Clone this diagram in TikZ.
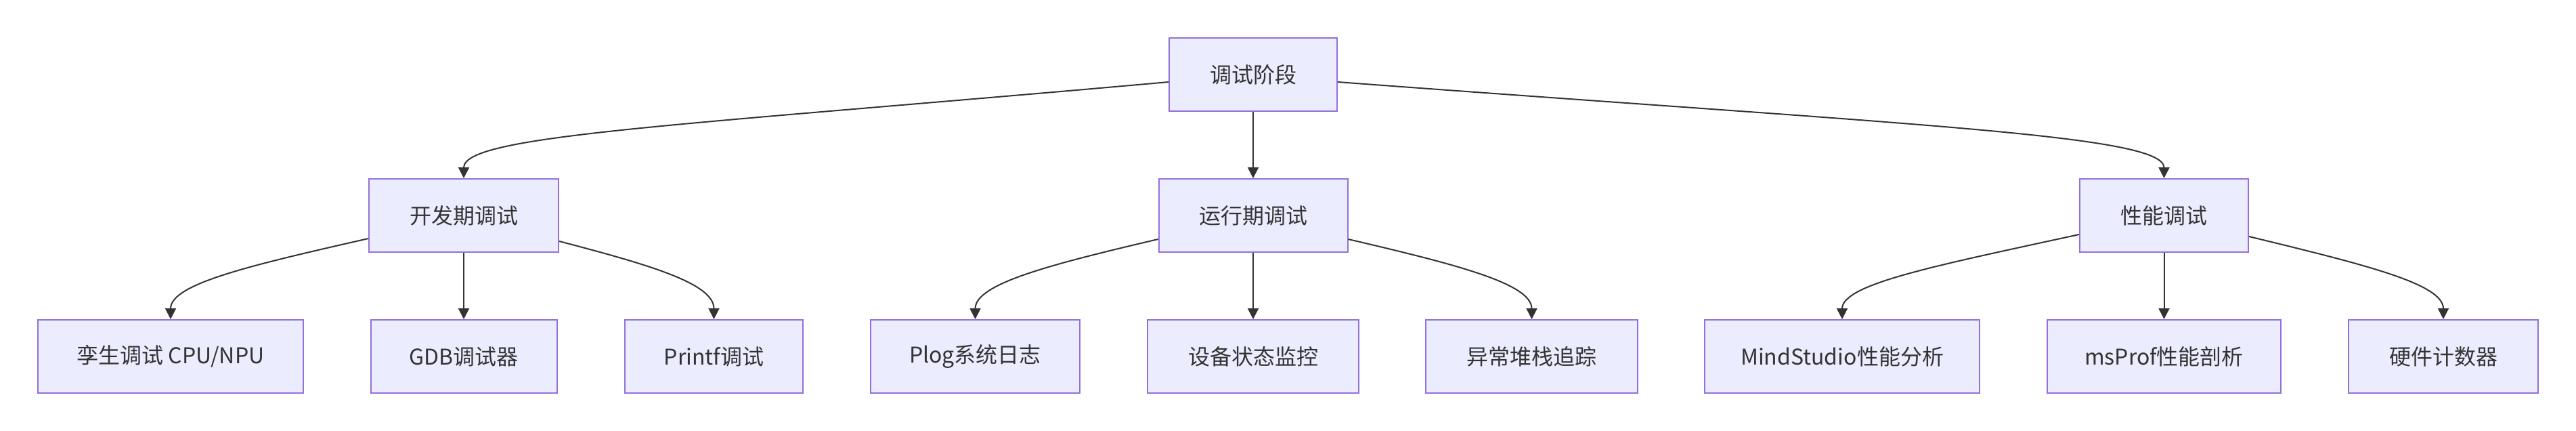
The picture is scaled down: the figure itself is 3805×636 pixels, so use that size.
\documentclass[tikz,border=0pt]{standalone}
\usepackage{fontspec}
\setmainfont{Noto Sans CJK SC}
\usetikzlibrary{arrows.meta,calc}
\definecolor{boxfill}{HTML}{ECECFF}
\definecolor{boxline}{HTML}{9370DB}
\definecolor{ink}{HTML}{333333}
\tikzset{
  box/.style={draw=boxline, fill=boxfill, line width=1pt, inner sep=0pt,
    minimum height=54pt, text=ink, font=\fontsize{16pt}{20pt}\selectfont},
  edge/.style={draw=ink, line width=1pt, -{Triangle[length=8pt,width=8pt]}}
}
\begin{document}
\begin{tikzpicture}[x=0.5pt,y=-0.5pt]
\path[fill=white,use as bounding box] (0,0) rectangle (3805,636);
% top
\node[box, minimum width=124pt] (root) at (1851,110) {调试阶段};
% middle
\node[box, minimum width=140pt] (dev) at (685,318) {开发期调试};
\node[box, minimum width=139.5pt] (run) at (1851,318) {运行期调试};
\node[box, minimum width=124.5pt] (perf) at (3196.5,318) {性能调试};
% bottom
\node[box, minimum width=196pt] (twin) at (252,526) {孪生调试 CPU/NPU};
\node[box, minimum width=137.5pt] (gdb) at (685,526) {GDB调试器};
\node[box, minimum width=131.5pt] (printf) at (1054.5,526) {Printf调试};
\node[box, minimum width=154.5pt] (plog) at (1440.5,526) {Plog系统日志};
\node[box, minimum width=156pt] (mon) at (1851,526) {设备状态监控};
\node[box, minimum width=156.5pt] (stack) at (2262.5,526) {异常堆栈追踪};
\node[box, minimum width=203pt] (mind) at (2721,526) {MindStudio性能分析};
\node[box, minimum width=172.5pt] (msprof) at (3196.5,526) {msProf性能剖析};
\node[box, minimum width=140pt] (hw) at (3609,526) {硬件计数器};
% edges from root
\draw[edge] ($(root.west)+(0,11)$) .. controls +(-727,65) and +(0,-64) .. (dev.north);
\draw[edge] (root.south) -- (run.north);
\draw[edge] ($(root.east)+(0,11)$) .. controls +(855,64) and +(0,-64) .. (perf.north);
% edges from dev
\draw[edge] ($(dev.west)+(0,34)$) .. controls +(-176,40) and +(0,-52) .. (twin.north);
\draw[edge] (dev.south) -- (gdb.north);
\draw[edge] ($(dev.east)+(0,38)$) .. controls +(138,36) and +(0,-52) .. (printf.north);
% edges from run
\draw[edge] ($(run.west)+(0,35)$) .. controls +(-162,38) and +(0,-52) .. (plog.north);
\draw[edge] (run.south) -- (mon.north);
\draw[edge] ($(run.east)+(0,35)$) .. controls +(163,38) and +(0,-52) .. (stack.north);
% edges from perf
\draw[edge] ($(perf.west)+(0,28)$) .. controls +(-211,46) and +(0,-52) .. (mind.north);
\draw[edge] (perf.south) -- (msprof.north);
\draw[edge] ($(perf.east)+(0,31)$) .. controls +(173,42) and +(0,-52) .. (hw.north);
\end{tikzpicture}
\end{document}
